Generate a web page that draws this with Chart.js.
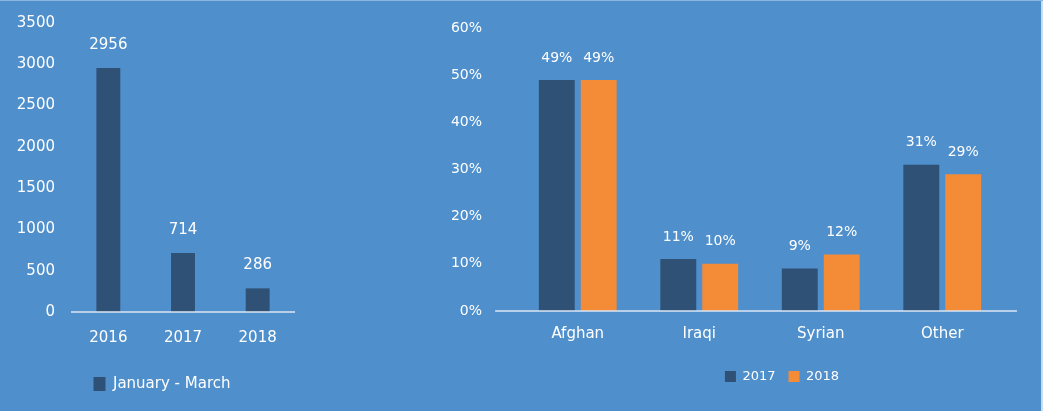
<!DOCTYPE html>
<html><head><meta charset="utf-8">
<script src="https://cdn.jsdelivr.net/npm/chart.js@4"></script>
<style>
html,body{margin:0;padding:0;width:1043px;height:411px;overflow:hidden;background:#4e8fcc;}
#wrap{position:relative;width:1043px;height:411px;background:#4f8fcc;box-shadow:inset 0 1px 0 #8db6df, inset -2px 0 0 #c9dcf0;}
#c1{position:absolute;left:0;top:0;}
#c2{position:absolute;left:420px;top:0;}
</style></head><body>
<div id="wrap"><canvas id="c1" width="330" height="411"></canvas><canvas id="c2" width="623" height="411"></canvas></div>
<script>
// ---- data ----
const yearLabels = ['2016', '2017', '2018'];
const janMarchValues = [2956, 714, 286];
const leftSeriesName = 'January - March';
const leftTickMax = 3500;
const leftTickStep = 500;

const nationalityLabels = ['Afghan', 'Iraqi', 'Syrian', 'Other'];
const share2017 = [49, 11, 9, 31];
const share2018 = [49, 10, 12, 29];
const rightSeriesNames = ['2017', '2018'];
const rightTickMax = 60;
const rightTickStep = 10;

// ---- styles ----
const DARK = '#2f5175';
const ORANGE = '#f48b37';
const TEXT = '#ffffff';
const AXIS = '#dbe6f3';
const FONT = 'DejaVu Sans';

const valueLabels = {
  id: 'valueLabels',
  afterDatasetsDraw(chart, args, opts) {
    const ctx = chart.ctx;
    ctx.save();
    ctx.fillStyle = opts.color;
    ctx.font = opts.size + 'px "' + FONT + '"';
    ctx.textAlign = 'center';
    ctx.textBaseline = 'middle';
    chart.data.datasets.forEach((ds, i) => {
      const meta = chart.getDatasetMeta(i);
      meta.data.forEach((el, j) => {
        ctx.fillText(opts.format(ds.data[j]), el.x, el.y - opts.offset);
      });
    });
    ctx.restore();
  }
};

const baseLine = {
  id: 'baseLine',
  afterDatasetsDraw(chart, args, opts) {
    const ctx = chart.ctx;
    const a = chart.chartArea;
    const y = chart.scales.y.getPixelForValue(0);
    const cw = (a.right - a.left) / chart.data.labels.length;
    ctx.save();
    ctx.strokeStyle = opts.color;
    ctx.lineWidth = 1.5;
    ctx.beginPath();
    ctx.moveTo(a.left - cw * opts.extLeft, y);
    ctx.lineTo(a.right + cw * opts.extRight, y);
    ctx.stroke();
    ctx.restore();
  }
};

const legendPlace = {
  id: 'legendPlace',
  afterLayout(chart, args, opts) {
    const lg = chart.legend;
    if (!lg) return;
    const w = lg.width, h = lg.height;
    lg.left = opts.cx - w / 2; lg.right = lg.left + w;
    lg.top = opts.cy - h / 2; lg.bottom = lg.top + h;
  }
};

Chart.register(valueLabels, baseLine, legendPlace);

function yFit(width) {
  return function (s) { s.width = width; s.paddingTop = 0; s.paddingBottom = 0; };
}

new Chart(document.getElementById('c1'), {
  type: 'bar',
  data: {
    labels: yearLabels,
    datasets: [{
      label: leftSeriesName,
      data: janMarchValues,
      backgroundColor: DARK,
      borderWidth: 0,
      categoryPercentage: 0.8,
      barPercentage: 0.4
    }]
  },
  options: {
    responsive: false,
    animation: false,
    layout: { padding: { top: 23, right: 35, bottom: 19, left: 0 } },
    scales: {
      x: {
        grid: { display: false, drawTicks: false }, border: { display: false },
        ticks: { color: TEXT, font: { family: FONT, size: 15 }, padding: 17 },
        afterFit(s) { s.height = 45; }
      },
      y: {
        min: 0, max: leftTickMax,
        grid: { display: false, drawTicks: false }, border: { display: false },
        ticks: { stepSize: leftTickStep, color: TEXT, font: { family: FONT, size: 15 }, padding: 16, callback: v => String(v) },
        afterFit: yFit(71)
      }
    },
    plugins: {
      tooltip: { enabled: false },
      legend: {
        position: 'bottom', fullSize: false,
        labels: { color: TEXT, font: { family: FONT, size: 15 }, boxWidth: 12, boxHeight: 14, padding: 10 }
      },
      legendPlace: { cx: 162, cy: 384 },
      valueLabels: { color: TEXT, size: 15, offset: 23, format: v => String(v) },
      baseLine: { color: AXIS, extLeft: 0, extRight: 0 }
    }
  }
});

new Chart(document.getElementById('c2'), {
  type: 'bar',
  data: {
    labels: nationalityLabels,
    datasets: [
      { label: rightSeriesNames[0], data: share2017, backgroundColor: DARK, borderWidth: 0, categoryPercentage: 0.69, barPercentage: 0.857 },
      { label: rightSeriesNames[1], data: share2018, backgroundColor: ORANGE, borderWidth: 0, categoryPercentage: 0.69, barPercentage: 0.857 }
    ]
  },
  options: {
    responsive: false,
    animation: false,
    layout: { padding: { top: 28, right: 40, bottom: 19, left: 0 } },
    scales: {
      x: {
        grid: { display: false, drawTicks: false }, border: { display: false },
        ticks: { color: TEXT, font: { family: FONT, size: 15 }, padding: 14 },
        afterFit(s) { s.height = 45; }
      },
      y: {
        min: 0, max: rightTickMax,
        grid: { display: false, drawTicks: false }, border: { display: false },
        ticks: { stepSize: rightTickStep, color: TEXT, font: { family: FONT, size: 14 }, padding: 35, callback: v => v + '%' },
        afterFit: yFit(97)
      }
    },
    plugins: {
      tooltip: { enabled: false },
      legend: {
        position: 'bottom', fullSize: false,
        labels: { color: TEXT, font: { family: FONT, size: 13 }, boxWidth: 11, boxHeight: 11, padding: 13 }
      },
      legendPlace: { cx: 362, cy: 375 },
      valueLabels: { color: TEXT, size: 14, offset: 22, format: v => v + '%' },
      baseLine: { color: AXIS, extLeft: 0.18, extRight: 0.115 }
    }
  }
});
</script>
</body></html>
